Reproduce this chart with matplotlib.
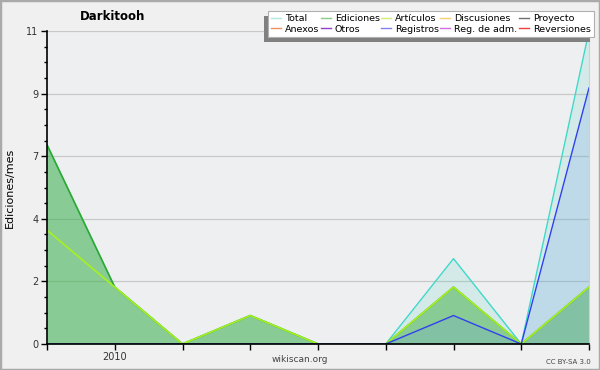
import matplotlib
matplotlib.use("Agg")
import matplotlib.pyplot as plt
from matplotlib.lines import Line2D
from matplotlib.patches import Rectangle
import numpy as np

# ---- data ----
x_idx = [0, 1, 2, 3, 4, 5, 6, 7, 8]
x_tick_labels = ["", "2010", "", "", "", "", "", "", ""]
total = [7, 2, 0, 1, 0, 0, 3, 0, 11]
ediciones = [7, 2, 0, 1, 0, 0, 2, 0, 2]
articulos = [4, 2, 0, 1, 0, 0, 2, 0, 2]
registros = [0, 0, 0, 0, 0, 0, 1, 0, 9]
zeros = [0, 0, 0, 0, 0, 0, 0, 0, 0]
y_ticks = [0, 2.2, 4.4, 6.6, 8.8, 11]
y_tick_labels = ["0", "2", "4", "7", "9", "11"]

legend_names = ["Total", "Ediciones", "Artículos", "Discusiones", "Proyecto",
                "Anexos", "Otros", "Registros", "Reg. de adm.", "Reversiones"]
legend_colors = ["#b0e8e0", "#88cc88", "#d0f070", "#f8d070", "#707070",
                 "#f09060", "#9040c8", "#8080f0", "#d070e0", "#f04040"]

W, H = 600, 370
fig = plt.figure(figsize=(6, 3.7), dpi=100, facecolor="#f0f0f0")
ax = fig.add_axes([47 / W, (H - 344) / H, (589 - 47) / W, (344 - 31) / H])
ax.set_facecolor("#eeeff1")

# fills
ax.fill_between(x_idx, total, 0, color="#40d0c0", alpha=0.15, lw=0, zorder=1)
ax.fill_between(x_idx, ediciones, 0, color="#38aa38", alpha=0.48, lw=0, zorder=2)
ax.fill_between(x_idx, registros, 0, color="#6699e6", alpha=0.2, lw=0, zorder=3)

# zero series (hidden on baseline)
for c in ["#f8c860", "#606060", "#f08850", "#9030c0", "#d060e0", "#f03030"]:
    ax.plot(x_idx, zeros, color=c, lw=1, zorder=1.5)

ax.plot(x_idx, total, color="#40d8c8", lw=1, zorder=4)
ax.plot(x_idx, ediciones, color="#30a830", lw=1.2, zorder=5)
ax.plot(x_idx, articulos, color="#a8f020", lw=1.2, zorder=6)
ax.plot(x_idx, registros, color="#3040f0", lw=1, zorder=7)

ax.set_xlim(0, 8)
ax.set_ylim(0, 11)
ax.set_xticks(x_idx)
ax.set_xticklabels(x_tick_labels, fontsize=7, color="#333333")
ax.set_yticks(y_ticks)
ax.set_yticklabels(y_tick_labels, fontsize=7, color="#333333")
ax.set_yticks(np.arange(0, 11.01, 0.55), minor=True)
ax.tick_params(axis="both", which="major", length=4, width=1, color="black", pad=2)
ax.tick_params(axis="y", which="minor", length=2.5, width=1, color="black")
ax.grid(axis="y", which="major", color="#c8c8c8", lw=0.9, zorder=0)
ax.set_axisbelow(True)
ax.spines["top"].set_visible(False)
ax.spines["right"].set_color("#d0d0d0")
ax.spines["left"].set_color("black")
ax.spines["bottom"].set_color("black")
ax.spines["left"].set_linewidth(1.2)
ax.spines["bottom"].set_linewidth(1.2)
for s in ax.spines.values():
    s.set_zorder(10)

ax.set_ylabel("Ediciones/mes", fontsize=8, labelpad=8)

fig.text(113 / W, 1 - 17 / H, "Darkitooh", fontsize=8.5, fontweight="bold",
         ha="center", va="center")
fig.text(300 / W, 1 - 359 / H, "wikiscan.org", fontsize=6.5, color="#444444",
         ha="center", va="center")
fig.text(591 / W, 1 - 362 / H, "CC BY-SA 3.0", fontsize=5, color="#444444",
         ha="right", va="center")

# legend shadow + legend
fig.patches.append(Rectangle((264 / W, 1 - 42 / H), (590 - 264) / W, (42 - 16) / H,
                             transform=fig.transFigure, facecolor="#808080",
                             edgecolor="none", zorder=20))
order = [0, 5, 1, 6, 2, 7, 3, 8, 4, 9]
handles = [Line2D([], [], color=legend_colors[i], lw=1) for i in order]
labels = [legend_names[i] for i in order]
leg = fig.legend(handles, labels, ncol=5, loc="upper right",
                 bbox_to_anchor=(594 / W, 1 - 11 / H), fontsize=6.8,
                 frameon=True, fancybox=False, framealpha=1, edgecolor="#b0b0b0",
                 handlelength=1.05, handletextpad=0.45, columnspacing=0.12,
                 labelspacing=0.15, borderpad=0.35, borderaxespad=0)
leg.get_frame().set_linewidth(0.8)
leg.set_zorder(21)

# figure border
fig.patches.append(Rectangle((0, 0), 1, 1, transform=fig.transFigure,
                             facecolor="none", edgecolor="#aaaaaa", lw=2.5, zorder=30))

fig.savefig("out.png", dpi=100, facecolor=fig.get_facecolor())
